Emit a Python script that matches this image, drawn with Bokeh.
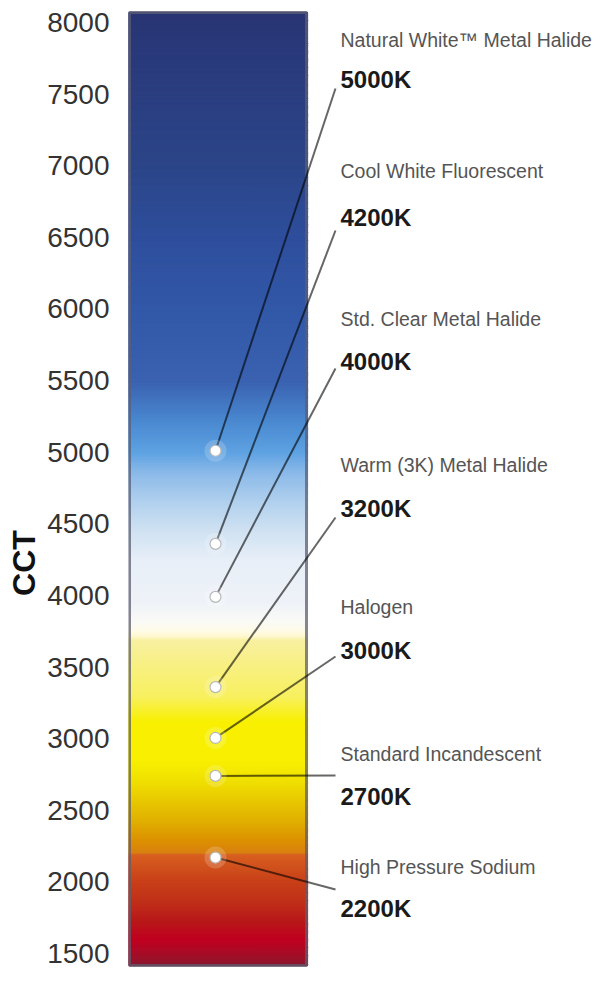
import numpy as np
from bokeh.plotting import figure
from bokeh.models import Range1d, FixedTicker, ColumnDataSource
from bokeh.core.properties import value
from bokeh.embed import file_html
from bokeh.resources import INLINE

# ---------------- data ----------------
cct_ticks = [1500, 2000, 2500, 3000, 3500, 4000, 4500, 5000, 5500, 6000, 6500, 7000, 7500, 8000]
lamp_names = ["Natural White\u2122 Metal Halide", "Cool White Fluorescent", "Std. Clear Metal Halide",
              "Warm (3K) Metal Halide", "Halogen", "Standard Incandescent", "High Pressure Sodium"]
lamp_rated_k = [5000, 4200, 4000, 3200, 3000, 2700, 2200]
marker_cct = [5010, 4360, 3990, 3360, 3005, 2740, 2170]
scale_top = 8070
scale_bottom = 1416
axis_title = "CCT"

# ---------------- style / layout ----------------
W, H = 600, 974
Y_LO, Y_HI = 1353.4, 8153.6
FONT = "Liberation Sans"

def px_to_cct(iy):
    # pixel row -> CCT units (layout helper for label anchors only)
    return Y_HI - iy * (Y_HI - Y_LO) / H

name_rows = [39, 170, 318, 464, 606, 753, 866]
value_rows = [79, 217, 361, 508, 650, 796, 908]
leader_rows = [88, 230, 368, 517, 656, 775, 889]
BAR_X0, BAR_X1 = 0, 179
DOT_X = 87
LEADER_X = 207
TEXT_X = 212

grad_stops = [
    (1400, "#7e1830"), (1480, "#a01028"), (1600, "#c00020"), (1730, "#b81818"), (1870, "#c03018"),
    (2010, "#c84018"), (2195, "#d86020"), (2205, "#d88010"), (2290, "#dc9000"), (2430, "#e0b000"),
    (2570, "#e8c800"), (2710, "#f0e000"), (2850, "#f8f000"), (3120, "#f8f000"), (3300, "#f8f060"),
    (3500, "#f8f080"), (3690, "#f8f0a0"), (3720, "#fff8d0"), (3760, "#fffbe8"), (3820, "#fafaf6"),
    (3960, "#eef2f8"), (4240, "#e8eff8"), (4450, "#d0e2f2"), (4660, "#b0d0ee"), (4870, "#88b8e8"),
    (5000, "#5ea2e2"), (5220, "#4a88d0"), (5500, "#3a62b0"), (6000, "#3258a8"), (6500, "#2e4e9c"),
    (7000, "#2b4588"), (7500, "#2a3e80"), (8100, "#283474"),
]

def hex_rgb(h):
    return np.array([int(h[i:i + 2], 16) for i in (1, 3, 5)], dtype=float)

stop_v = np.array([s[0] for s in grad_stops], dtype=float)
stop_c = np.array([hex_rgb(s[1]) for s in grad_stops])

STEP = 8
bottoms = np.arange(scale_bottom, scale_top, STEP, dtype=float)
tops = np.minimum(bottoms + STEP, scale_top)
mids = (bottoms + tops) / 2
cols = []
for m in mids:
    rgb = [np.interp(m, stop_v, stop_c[:, k]) for k in range(3)]
    cols.append("#%02x%02x%02x" % tuple(int(round(c)) for c in rgb))

p = figure(width=W, height=H, output_backend="svg", toolbar_location=None,
           x_range=Range1d(0, W - 128), y_range=Range1d(Y_LO, Y_HI),
           x_axis_location=None, min_border_left=128, min_border_right=0,
           min_border_top=0, min_border_bottom=0)
p.outline_line_color = None
p.xgrid.visible = False
p.ygrid.visible = False
p.background_fill_color = "white"
p.border_fill_color = "white"

# gradient scale bar
grad = ColumnDataSource(dict(bottom=bottoms, top=tops, color=cols))
p.quad(left=BAR_X0, right=BAR_X1, bottom="bottom", top="top", fill_color="color",
       line_color="color", line_width=1.2, source=grad)
p.quad(left=BAR_X0 + 1, right=BAR_X1 - 1, bottom=scale_bottom, top=scale_top,
       fill_color=None, line_color="#5e5e70", line_alpha=0.75, line_width=3)

# leader lines
leader_cct = [px_to_cct(r) for r in leader_rows]
p.segment(x0=DOT_X, y0=marker_cct, x1=LEADER_X, y1=leader_cct,
          line_color="black", line_alpha=0.6, line_width=2)

# markers
p.scatter(x=DOT_X, y=marker_cct, size=22, fill_color="white", fill_alpha=0.18, line_color=None)
p.scatter(x=DOT_X, y=marker_cct, size=11, fill_color="white", line_color="#b8b8b8", line_width=1.2)

# labels
lab = ColumnDataSource(dict(
    x=[TEXT_X] * len(lamp_names),
    yn=[px_to_cct(r) for r in name_rows],
    yv=[px_to_cct(r) for r in value_rows],
    name=lamp_names,
    val=["%dK" % k for k in lamp_rated_k],
))
p.text(x="x", y="yn", text="name", source=lab, text_font=value(FONT), text_font_size="19.5px",
       text_color="#555555", text_baseline="middle", text_align="left")
p.text(x="x", y="yv", text="val", source=lab, text_font=value(FONT), text_font_size="24px",
       text_font_style="bold", text_color="#1a1a1a", text_baseline="middle", text_align="left")

# y axis
ax = p.yaxis[0]
ax.ticker = FixedTicker(ticks=cct_ticks)
ax.major_label_text_font = FONT
ax.major_label_text_font_size = "28px"
ax.major_label_text_color = "#333333"
ax.major_tick_line_color = None
ax.minor_tick_line_color = None
ax.major_tick_out = 0
ax.major_tick_in = 0
ax.axis_line_color = None
ax.major_label_standoff = 19
# trailing no-break spaces push the centred title down to where the reference has it
ax.axis_label = axis_title + "\u00a0" * 17
ax.axis_label_text_font = FONT
ax.axis_label_text_font_style = "bold"
ax.axis_label_text_font_size = "32px"
ax.axis_label_text_color = "#111111"
ax.axis_label_standoff = 2

open("out.html", "w").write(file_html(p, INLINE))
